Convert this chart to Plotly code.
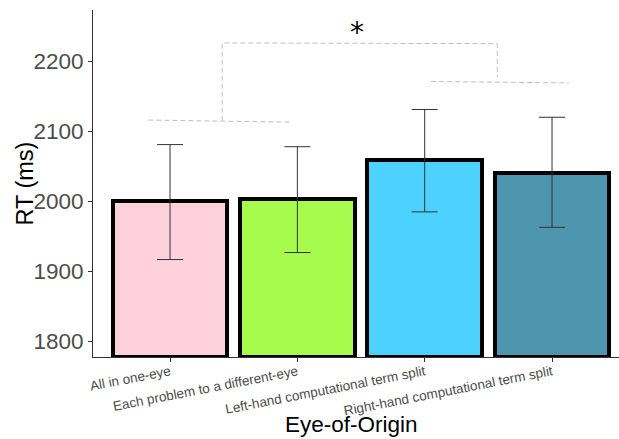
import plotly.graph_objects as go

categories = ["All in one-eye", "Each problem to a different-eye",
              "Left-hand computational term split", "Right-hand computational term split"]
positions = [1, 2, 3, 4]
means = [2000, 2003, 2059, 2041]
err_upper = [81, 75, 72, 79]
err_lower = [83, 76, 74, 78]
colors = ["#FFD1DC", "#A6FB4D", "#4DD2FF", "#4E96AE"]

# significance bracket (dashed), segments separated by None
bracket_x = [0.83, 1.96, None, 1.41, 1.41, 3.57, 3.57, None, 3.05, 4.13]
bracket_y = [2116, 2113, None, 2115, 2226, 2225, 2177, None, 2171, 2169]
star_x = 2.465
star_y = 2248

yticks = [1800, 1900, 2000, 2100, 2200]

fig = go.Figure()
fig.add_trace(go.Bar(
    x=positions, y=[m - 1778 for m in means], base=1778,
    width=0.9,
    marker=dict(color=colors, line=dict(color="black", width=4)),
    error_y=dict(type="data", symmetric=False, array=err_upper, arrayminus=err_lower,
                 color="#333333", thickness=1, width=13),
    showlegend=False,
))
fig.add_trace(go.Scatter(
    x=bracket_x, y=bracket_y, mode="lines",
    line=dict(color="#BEBEBE", width=1, dash="5px,3px"),
    showlegend=False, connectgaps=False,
))

fig.add_annotation(x=star_x, y=star_y, xref="x", yref="y", text="*", showarrow=False,
                   font=dict(family="DejaVu Sans", size=28, color="black"),
                   yanchor="middle", yshift=-5)
fig.add_annotation(x=0.4914, y=-0.195, xref="paper", yref="paper", text="Eye-of-Origin",
                   showarrow=False, font=dict(family="Liberation Sans", size=22.5, color="black"),
                   yanchor="middle", xanchor="center")
fig.add_annotation(x=-0.131, y=0.5, xref="paper", yref="paper", text="RT (ms)",
                   textangle=-90, showarrow=False,
                   font=dict(family="Liberation Sans", size=23.5, color="black"),
                   yanchor="middle", xanchor="center")

fig.update_layout(
    width=619, height=439,
    margin=dict(l=93, r=0, t=10, b=82),
    plot_bgcolor="white", paper_bgcolor="white",
    bargap=0,
)
fig.update_xaxes(
    range=[0.395, 4.526], tickvals=positions, ticktext=categories,
    tickangle=-11, showline=True, linecolor="#333333", linewidth=1,
    ticks="outside", ticklen=4, tickcolor="#333333",
    tickfont=dict(family="Liberation Sans", size=13.5, color="#4D4D4D"),
    showgrid=False, zeroline=False, automargin=False, ticklabelstandoff=-3,
)
fig.update_yaxes(
    range=[1778, 2273], tickvals=yticks,
    showline=True, linecolor="#333333", linewidth=1,
    ticks="outside", ticklen=4, tickcolor="#333333",
    tickfont=dict(family="Liberation Sans", size=22.5, color="#4D4D4D"),
    showgrid=False, zeroline=False, automargin=False,
)

fig.write_html("out.html", config={"displayModeBar": False},
               post_script="document.body.style.margin='0';document.body.style.padding='0';document.body.style.overflow='hidden';")
